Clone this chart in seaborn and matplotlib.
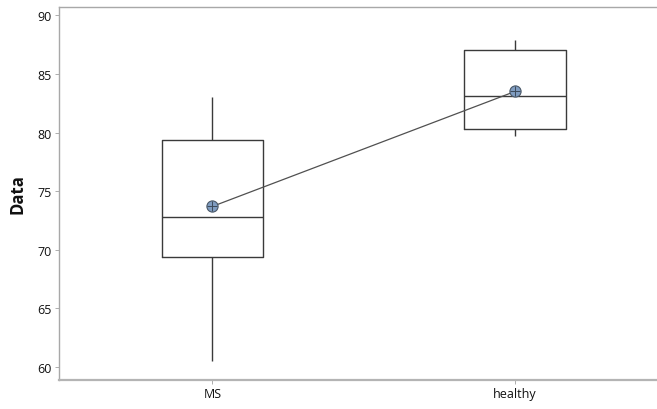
import numpy as np
import pandas as pd
import matplotlib
matplotlib.use("Agg")
import matplotlib.pyplot as plt
import seaborn as sns

# five-number summaries (min, Q1, median, Q3, max)
groups = ["MS", "healthy"]
ms_values = [60.5, 69.4, 72.8, 79.4, 83.0]
healthy_values = [79.7, 80.3, 83.1, 87.0, 87.9]
means = [73.7, 83.5]
yticks = [60, 65, 70, 75, 80, 85, 90]

df = pd.DataFrame({
    "group": ["MS"] * len(ms_values) + ["healthy"] * len(healthy_values),
    "Data": ms_values + healthy_values,
})
mean_df = pd.DataFrame({"group": groups, "Data": means})

sns.set_style("white")
plt.rcParams["font.family"] = ["Open Sans", "DejaVu Sans"]

fig = plt.figure(figsize=(6.57, 4.10), dpi=100)
ax = fig.add_axes([0.0898, 0.0707, 0.9102, 0.9098])

line_c = "#3a3a3a"
sns.boxplot(data=df, x="group", y="Data", order=groups, width=0.336,
            whis=1.5, showcaps=False, fill=False, color=line_c,
            linewidth=1.0, ax=ax,
            medianprops=dict(color=line_c, linewidth=1.0),
            boxprops=dict(color=line_c, linewidth=1.0),
            whiskerprops=dict(color=line_c, linewidth=1.0))

# mean connect line and mean symbols
sns.lineplot(data=mean_df, x="group", y="Data", color="#505050",
             linewidth=0.9, ax=ax, zorder=4)
sns.scatterplot(data=mean_df, x="group", y="Data", marker="o", s=65,
                color="#7f9cc0", edgecolor="#4a5868", linewidth=0.8,
                ax=ax, zorder=5)
sns.scatterplot(data=mean_df, x="group", y="Data", marker="+", s=45,
                color="#3c4a5a", linewidth=0.7, ax=ax, zorder=6)

ax.set_xlim(-0.507, 1.469)
ax.set_ylim(58.9, 90.7)
ax.set_yticks(yticks)
ax.set_xlabel("")
ax.set_ylabel("Data", fontsize=12, fontweight="bold", labelpad=8,
              color="#111111")
ax.tick_params(axis="both", labelsize=9, length=3, width=0.6,
               color="#a0a0a0", labelcolor="#111111", direction="out",
               left=True, bottom=True, pad=2)

ax.spines["right"].set_visible(False)
for side in ["left", "top"]:
    ax.spines[side].set_color("#a8a8a8")
    ax.spines[side].set_linewidth(1.0)
ax.spines["bottom"].set_color("#b4b4b4")
ax.spines["bottom"].set_linewidth(1.6)

fig.savefig("out.png", dpi=100)
